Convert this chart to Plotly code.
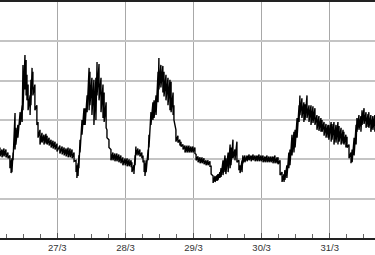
import plotly.graph_objects as go
import pandas as pd

# hours since 26/3 00:00
hours = [3.8, 4.5, 5.2, 5.9, 6.6, 7.3, 7.7, 8.0, 8.4, 9.1, 9.4, 10.1, 10.9, 11.6, 11.9, 12.6, 13.0, 13.3, 13.7, 14.4,
         14.7, 15.1, 15.4, 16.1, 16.8, 17.2, 17.9, 18.6, 19.3, 20.0, 20.4, 21.1, 21.8, 22.5, 23.2, 23.9, 24.9, 25.7, 26.4, 27.1,
         27.8, 28.5, 29.2, 29.9, 30.6, 30.9, 31.3, 31.6, 32.0, 32.7, 33.4, 33.8, 34.5, 35.2, 35.5, 36.2, 36.9, 37.6, 38.0, 38.7,
         39.4, 40.1, 40.5, 41.2, 41.5, 42.2, 42.9, 43.6, 44.3, 45.0, 45.7, 46.4, 47.1, 47.9, 48.6, 49.3, 50.0, 50.3, 51.0, 51.4,
         51.7, 52.4, 53.1, 53.8, 54.2, 54.6, 54.9, 55.3, 56.0, 56.3, 57.0, 57.7, 58.1, 58.8, 59.5, 59.8, 60.5, 61.2, 61.6, 62.3,
         63.0, 63.7, 64.1, 64.8, 65.1, 65.8, 66.5, 67.2, 67.6, 68.3, 69.0, 69.7, 70.4, 71.1, 71.8, 72.5, 72.9, 73.6, 74.3, 75.0,
         75.7, 76.4, 77.1, 77.8, 78.2, 78.9, 79.6, 80.3, 80.6, 81.3, 81.7, 82.4, 83.1, 83.4, 84.2, 84.9, 85.2, 85.9, 86.6, 87.3,
         88.0, 88.4, 89.1, 89.4, 90.1, 90.9, 91.6, 92.3, 93.0, 93.7, 94.4, 95.1, 95.8, 96.5, 97.2, 97.9, 98.6, 99.3, 100.0, 100.7,
         101.4, 101.8, 102.5, 103.2, 103.9, 104.2, 104.9, 105.6, 106.0, 106.7, 107.4, 107.8, 108.5, 109.2, 109.5, 110.2, 110.9, 111.3, 112.0, 112.7,
         113.4, 114.1, 114.8, 115.5, 116.2, 116.9, 117.3, 118.0, 118.7, 119.4, 119.7, 120.5, 120.8, 121.5, 122.2, 122.9, 123.3, 124.0, 124.7, 125.0,
         125.7, 126.1, 126.8, 127.5, 127.9, 128.6, 129.3, 129.6, 130.3, 131.0, 131.4, 132.1, 132.8, 133.5, 133.8, 134.5, 135.2, 135.9]

# upper and lower values of the noisy signal at each sample
hi = [92, 90, 91, 90, 87, 84, 79, 81, 87, 127, 112, 115, 128, 135, 176, 186, 181, 166, 156, 145,
      161, 173, 169, 156, 135, 118, 110, 107, 105, 106, 104, 102, 100, 99, 98, 96, 94, 93, 92, 91,
      92, 91, 90, 87, 79, 74, 76, 84, 100, 120, 132, 132, 145, 173, 169, 163, 161, 163, 179, 177,
      163, 156, 148, 138, 110, 100, 90, 87, 86, 86, 85, 84, 82, 81, 81, 80, 79, 77, 74, 84,
      93, 91, 90, 87, 84, 79, 76, 79, 90, 105, 128, 138, 140, 145, 169, 183, 176, 175, 169, 166,
      163, 161, 159, 148, 135, 110, 104, 100, 98, 95, 94, 94, 94, 93, 93, 92, 85, 83, 82, 82,
      81, 79, 79, 78, 73, 63, 63, 64, 65, 67, 71, 79, 84, 81, 87, 95, 92, 100, 90, 98,
      79, 74, 79, 84, 84, 84, 85, 84, 85, 84, 84, 85, 84, 84, 83, 84, 83, 83, 83, 84,
      82, 82, 79, 67, 65, 69, 74, 87, 90, 105, 108, 110, 122, 135, 145, 142, 138, 136, 145, 135,
      135, 134, 132, 125, 124, 122, 120, 118, 116, 115, 115, 118, 116, 118, 115, 118, 114, 112, 110, 108,
      105, 103, 95, 87, 90, 102, 115, 122, 125, 124, 130, 132, 128, 126, 128, 125, 124, 125]

lo = [83, 82, 83, 82, 81, 71, 66, 67, 79, 90, 95, 102, 115, 118, 130, 151, 145, 140, 130, 125,
      135, 151, 145, 130, 115, 102, 95, 97, 95, 96, 95, 94, 92, 91, 90, 88, 86, 85, 84, 83,
      82, 82, 81, 78, 67, 61, 63, 71, 87, 105, 115, 115, 128, 130, 135, 125, 115, 120, 145, 140,
      128, 122, 118, 112, 102, 92, 79, 79, 78, 78, 77, 76, 74, 74, 73, 73, 72, 67, 65, 74,
      84, 84, 83, 81, 77, 67, 63, 67, 79, 92, 115, 120, 122, 125, 138, 151, 153, 148, 144, 140,
      135, 130, 128, 125, 120, 98, 97, 94, 93, 90, 87, 87, 87, 87, 87, 86, 79, 77, 76, 76,
      75, 74, 74, 73, 65, 56, 57, 58, 59, 61, 62, 64, 67, 65, 67, 71, 74, 81, 79, 77,
      69, 66, 67, 76, 77, 78, 79, 78, 79, 78, 78, 78, 78, 77, 77, 77, 77, 77, 76, 76,
      76, 75, 64, 57, 57, 59, 61, 71, 74, 84, 87, 92, 102, 118, 125, 122, 118, 120, 122, 118,
      115, 117, 115, 110, 109, 108, 108, 104, 102, 102, 100, 98, 100, 95, 97, 95, 98, 95, 96, 95,
      92, 92, 81, 76, 77, 84, 95, 108, 110, 108, 115, 116, 112, 113, 112, 108, 110, 108]

base = pd.Timestamp("2013-03-26")
xs, ys = [], []
for h, a, b in zip(hours, hi, lo):
    t = base + pd.Timedelta(hours=h)
    xs += [t, t]
    ys += [a, b]

fig = go.Figure()
fig.add_trace(go.Scatter(x=xs, y=ys, mode="lines",
                         line=dict(color="#000000", width=1.4), showlegend=False,
                         hoverinfo="skip"))

fig.update_layout(
    width=375, height=255,
    margin=dict(l=0, r=0, t=2, b=17),
    paper_bgcolor="white", plot_bgcolor="white",
    font=dict(family="Liberation Sans, Arial, sans-serif", size=9.5, color="#333333"),
)
fig.update_xaxes(
    type="date",
    range=[base + pd.Timedelta(hours=3.8), base + pd.Timedelta(hours=135.96)],
    dtick=86400000, tick0=base, tickformat="%-d/%-m",
    showgrid=True, gridcolor="#a8a8a8", gridwidth=1,
    showline=True, linecolor="#222222", linewidth=2, mirror=True,
    ticks="inside", ticklen=5, tickcolor="#555555",
    minor=dict(dtick=6 * 3600000, tick0=base, ticks="inside", ticklen=4,
               tickcolor="#666666", showgrid=False),
    zeroline=False,
)
fig.update_yaxes(
    range=[0, 240], dtick=40, showticklabels=False,
    showgrid=True, gridcolor="#c4c4c4", gridwidth=1.5,
    zeroline=False, showline=False, ticks="",
)

fig.write_html("out.html")
